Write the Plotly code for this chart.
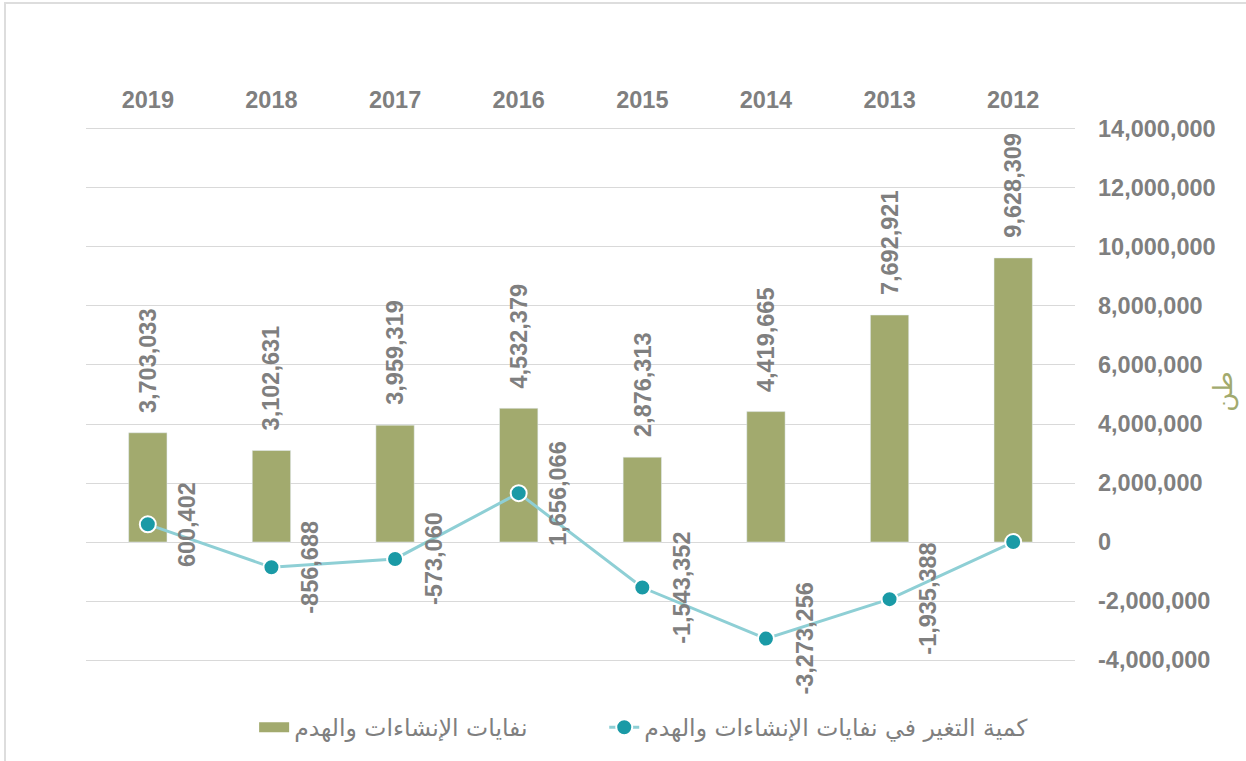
import plotly.graph_objects as go

years = ["2019", "2018", "2017", "2016", "2015", "2014", "2013", "2012"]
waste = [3703033, 3102631, 3959319, 4532379, 2876313, 4419665, 7692921, 9628309]
change = [600402, -856688, -573060, 1656066, -1543352, -3273256, -1935388, 0]
change_labels = ["600,402", "-856,688", "-573,060", "1,656,066", "-1,543,352", "-3,273,256", "-1,935,388", ""]
bar_name = "نفايات الإنشاءات والهدم"
line_name = "كمية التغير في نفايات الإنشاءات والهدم"
y_title = "طن"
y_ticks = [-4000000, -2000000, 0, 2000000, 4000000, 6000000, 8000000, 10000000, 12000000, 14000000]
y_tick_labels = ["-4,000,000", "-2,000,000", "0", "2,000,000", "4,000,000", "6,000,000",
                 "8,000,000", "10,000,000", "12,000,000", "14,000,000"]

GRAY = "#7F7F7F"
BAR = "#A2AA6E"
LINE = "#8ECFD5"
MARK = "#1A9AA6"
FONT = "Liberation Sans, Arial, sans-serif"
AFONT = "DejaVu Sans, sans-serif"
FS = 23.5

fig = go.Figure()
fig.add_trace(go.Bar(x=years, y=waste, name=bar_name, marker=dict(color=BAR),
                     width=0.31, showlegend=False))
fig.add_trace(go.Scatter(x=[None], y=[None], name=bar_name, mode="lines",
                         line=dict(color=BAR, width=14), showlegend=True, legend="legend"))
fig.add_trace(go.Scatter(x=years, y=change, name=line_name, mode="lines+markers",
                         line=dict(color=LINE, width=3), legend="legend2",
                         marker=dict(color=MARK, size=16, line=dict(color="white", width=2))))

ann = []
for i, v in enumerate(waste):
    ann.append(dict(x=i, y=v, xref="x", yref="y", text=f"{v:,}", showarrow=False,
                    textangle=-90, yanchor="bottom", xanchor="center", yshift=18,
                    font=dict(family=FONT, size=FS, color=GRAY, weight="bold")))
for i, (v, t) in enumerate(zip(change, change_labels)):
    if t:
        ann.append(dict(x=i, y=v, xref="x", yref="y", text=t, showarrow=False,
                        textangle=-90, yanchor="middle", xanchor="center", xshift=39,
                        font=dict(family=FONT, size=FS, color=GRAY, weight="bold")))
ann.append(dict(x=1.133, y=0.505, xref="paper", yref="paper", text=y_title, showarrow=False,
                textangle=-90, xanchor="left", yanchor="middle",
                font=dict(family=AFONT, size=26, color=BAR)))
legend_common = dict(orientation="h", xanchor="left", y=-0.12, yanchor="middle",
                     font=dict(family=AFONT, size=FS, color=GRAY), bgcolor="rgba(0,0,0,0)")
fig.update_layout(
    width=1246, height=761,
    margin=dict(l=86, r=171, t=126, b=92),
    paper_bgcolor="white", plot_bgcolor="white",
    showlegend=True,
    legend=dict(x=0.17, **legend_common),
    legend2=dict(x=0.524, **legend_common),
    xaxis=dict(side="top", type="category", categoryorder="array", categoryarray=years,
               range=[-0.5, len(years) - 0.5], automargin=False,
               showgrid=False, showline=False, ticks="", ticklabelstandoff=12,
               tickfont=dict(family=FONT, size=FS, color=GRAY, weight="bold")),
    yaxis=dict(side="right", range=[-4100000, 14100000], tickvals=y_ticks, ticktext=y_tick_labels,
               automargin=False, showgrid=True, gridcolor="#D9D9D9", gridwidth=1,
               zeroline=True, zerolinecolor="#D9D9D9", zerolinewidth=1,
               tickfont=dict(family=FONT, size=FS, color=GRAY, weight="bold"), ticklabelstandoff=22),
    annotations=ann,
    shapes=[dict(type="rect", xref="paper", yref="paper", x0=-0.0819, y0=-0.3, x1=1.3, y1=1.2289,
                 line=dict(color="#DDDDDD", width=2), fillcolor="rgba(0,0,0,0)", layer="below")],
)
fig.write_html("out.html")
